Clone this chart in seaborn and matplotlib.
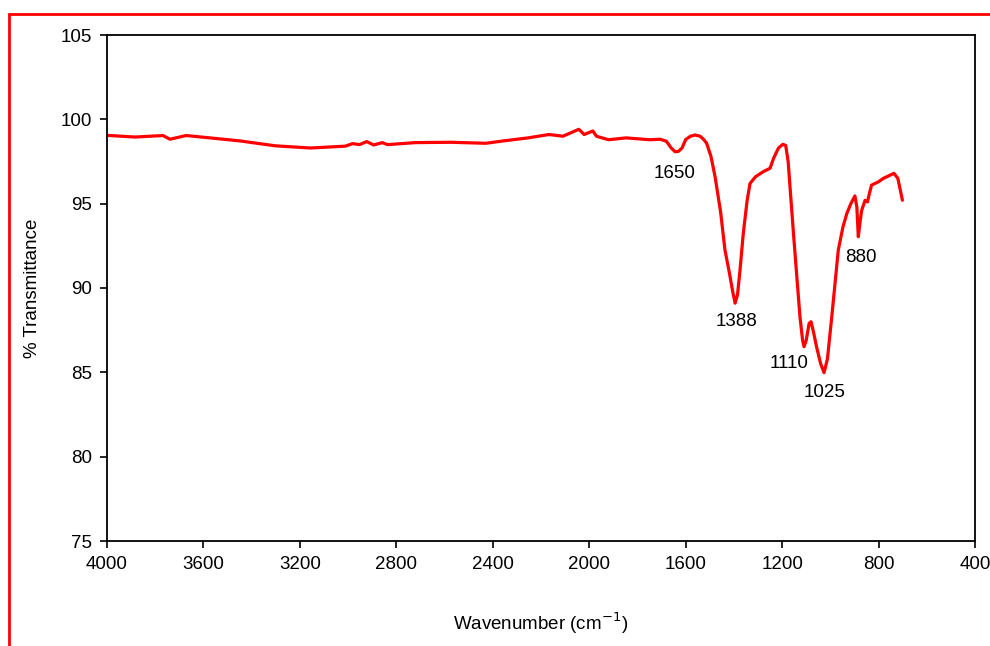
import matplotlib
matplotlib.use("Agg")
import matplotlib.pyplot as plt
from matplotlib.lines import Line2D
import seaborn as sns
import pandas as pd

# ---- data ----
wavenumber = [4000, 3884, 3768, 3739, 3672, 3594, 3448, 3302, 3156, 3011,
              2982, 2953, 2923, 2894, 2858, 2837, 2720, 2574, 2429, 2356,
              2254, 2167, 2109, 2043, 2021, 1985, 1970, 1920, 1847, 1748,
              1706, 1680, 1660, 1644, 1630, 1615, 1600, 1580, 1561, 1540,
              1525, 1513, 1495, 1478, 1455, 1437, 1420, 1405, 1395, 1385,
              1375, 1361, 1345, 1333, 1310, 1278, 1250, 1235, 1215, 1197,
              1185, 1175, 1153, 1126, 1115, 1109, 1100, 1088, 1080, 1070,
              1057, 1040, 1026, 1012, 994, 967, 948, 932, 915, 898,
              890, 884, 876, 870, 856, 846, 838, 829, 800, 780,
              736, 720, 701]
transmittance = [99.05, 98.95, 99.04, 98.82, 99.04, 98.93, 98.72, 98.43, 98.30, 98.41,
                 98.56, 98.50, 98.68, 98.48, 98.62, 98.50, 98.62, 98.64, 98.58, 98.72,
                 98.90, 99.10, 99.00, 99.41, 99.10, 99.31, 99.00, 98.79, 98.90, 98.79,
                 98.82, 98.70, 98.30, 98.08, 98.10, 98.30, 98.80, 99.00, 99.07, 99.00,
                 98.80, 98.58, 97.80, 96.60, 94.50, 92.25, 91.00, 89.80, 89.10, 89.60,
                 91.00, 93.24, 95.20, 96.20, 96.60, 96.90, 97.10, 97.70, 98.30, 98.52,
                 98.45, 97.50, 93.25, 88.30, 86.90, 86.52, 86.90, 87.90, 88.00, 87.40,
                 86.50, 85.50, 84.98, 85.80, 88.30, 92.25, 93.60, 94.40, 95.00, 95.46,
                 94.80, 93.04, 94.00, 94.60, 95.20, 95.10, 95.60, 96.10, 96.30, 96.50,
                 96.80, 96.50, 95.20]

peak_labels = ["1650", "1388", "1110", "1025", "880"]
label_x = [1644, 1391, 1171, 1022, 873]
label_y = [96.8, 88.0, 85.5, 83.8, 91.8]

x_ticks = [4000, 3600, 3200, 2800, 2400, 2000, 1600, 1200, 800, 400]
y_ticks = [75, 80, 85, 90, 95, 100, 105]

df = pd.DataFrame({"Wavenumber": wavenumber, "T": transmittance})

sns.set_theme(style="ticks")
plt.rcParams["font.family"] = ["Liberation Sans", "DejaVu Sans"]

fig = plt.figure(figsize=(9.9, 6.46), dpi=100)
ax = fig.add_axes([107 / 990, 1 - 541 / 646, (975 - 107) / 990, (541 - 35) / 646])

sns.lineplot(data=df, x="Wavenumber", y="T", sort=False, color="#FF0000",
             linewidth=2.3, ax=ax)

ax.set_xlim(4000, 400)
ax.set_ylim(75, 105)
ax.set_xticks(x_ticks)
ax.set_yticks(y_ticks)
ax.tick_params(axis="both", direction="out", length=5, width=1.2,
               labelsize=13.5, colors="black")
ax.tick_params(axis="y", pad=6)
ax.tick_params(axis="x", pad=6)
for s in ax.spines.values():
    s.set_visible(True)
    s.set_linewidth(1.3)
    s.set_color("black")

ax.set_xlabel("Wavenumber (cm$^{-1}$)", fontsize=13.5, labelpad=27, color="black")
ax.set_ylabel("% Transmittance", fontsize=13.5, labelpad=14, color="black")

for t, xx, yy in zip(peak_labels, label_x, label_y):
    ax.text(xx, yy, t, fontsize=13.5, ha="center", va="center", color="black")

# red frame around figure
fig.add_artist(Line2D([9 / 990, 1.0], [1 - 13.5 / 646, 1 - 13.5 / 646],
                      transform=fig.transFigure, color="#FF0000", linewidth=2.0))
fig.add_artist(Line2D([9 / 990, 9 / 990], [1 - 13.5 / 646, 0.0],
                      transform=fig.transFigure, color="#FF0000", linewidth=2.0))

fig.savefig("out.png", dpi=100)
